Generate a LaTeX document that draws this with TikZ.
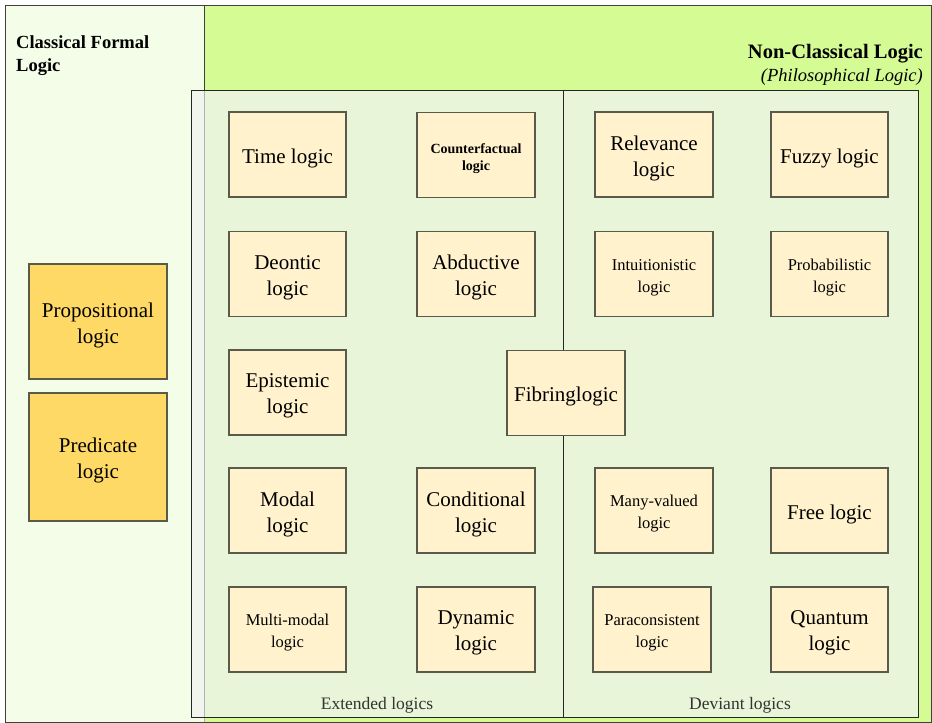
\documentclass[tikz,border=0pt]{standalone}
\usepackage{fontspec}
\setmainfont{Liberation Serif}
\definecolor{leftbg}{HTML}{F3FDE8}
\definecolor{rightbg}{HTML}{D5FB94}
\definecolor{innerbg}{HTML}{E8F5D8}
\definecolor{stripbg}{HTML}{F2F4EE}
\definecolor{boxbg}{HTML}{FFF2CC}
\definecolor{classbg}{HTML}{FFD966}
\definecolor{boxline}{HTML}{5A5A4A}
\tikzset{
  lbox/.style={draw=boxline, line width=1.3pt, fill=boxbg, minimum width=117pt, minimum height=85pt, inner sep=0pt},
  cbox/.style={lbox, fill=classbg, minimum width=138pt},
  big/.style={align=center, inner sep=0pt, font=\fontsize{21}{26}\selectfont},
  small/.style={align=center, inner sep=0pt, font=\fontsize{16.5}{22}\selectfont},
  tiny/.style={align=center, inner sep=0pt, font=\fontsize{14}{17}\selectfont\bfseries},
  heading/.style={inner sep=0pt},
}
% #1 name, #2 position, #3 box style, #4 text style, #5 text
\newcommand\logbox[5]{%
  \node[#3] (#1) at (#2) {};
  \node[#4] (#1-t) at ([yshift=-3.5pt]#1.center) {#5};
}
\begin{document}
\begin{tikzpicture}[x=1pt,y=-1pt]
\useasboundingbox (0,0) rectangle (932,723);
% columns
\fill[leftbg] (5,5) rectangle (204,722);
\fill[rightbg] (204,5) rectangle (931,722);
\draw[draw=black!75, line width=1pt] (5,5) rectangle (931,722);
\draw[draw=black!75, line width=1pt] (204,5) -- (204,90);
% inner region
\fill[innerbg] (191,90) rectangle (918,717);
\fill[stripbg] (191,90) rectangle (204,717);
\draw[black!30, line width=1pt] (204,90) -- (204,722);
\draw[black!85, line width=1pt] (191,90) rectangle (918,717);
\coordinate (dtop) at (563,90);
\coordinate (dbot) at (563,717);
\draw[black!85, line width=1pt] (dtop) -- (dbot);
% headings
\node[heading, anchor=base west, font=\fontsize{18.5}{23}\selectfont\bfseries] (cfl) at (16,48) {Classical Formal};
\node[heading, anchor=base west, font=\fontsize{18.5}{23}\selectfont\bfseries] (cfl2) at (16,71) {Logic};
\node[heading, anchor=base east, font=\fontsize{20.5}{24}\selectfont\bfseries] (ncl) at (923,58) {Non-Classical Logic};
\node[heading, anchor=base east, font=\fontsize{18.5}{22}\selectfont\itshape] (phl) at (923,81) {(Philosophical Logic)};
\node[anchor=base, font=\fontsize{17.5}{20}\selectfont, text=black!80] (ext) at (377,709) {Extended logics};
\node[anchor=base, font=\fontsize{17.5}{20}\selectfont, text=black!80] (dev) at (740,709) {Deviant logics};
% classical
\logbox{prop}{98,321.5}{cbox, minimum height=115pt}{big}{Propositional\\logic}
\logbox{pred}{98,457}{cbox, minimum height=128pt}{big}{Predicate\\logic}
% extended
\logbox{time}{287.5,154.5}{lbox}{big}{Time logic}
\logbox{cf}{476,155}{lbox, minimum width=118pt}{tiny}{Counterfactual\\logic}
\logbox{deon}{287.5,274}{lbox}{big}{Deontic\\logic}
\logbox{abd}{476,274}{lbox, minimum width=118pt}{big}{Abductive\\logic}
\logbox{epi}{287.5,392.5}{lbox}{big}{Epistemic\\logic}
\logbox{modal}{287.5,510.5}{lbox}{big}{Modal\\logic}
\logbox{cond}{476,510.5}{lbox, minimum width=118pt}{big}{Conditional\\logic}
\logbox{mm}{287.5,629.5}{lbox}{small}{Multi-modal\\logic}
\logbox{dyn}{476,629.5}{lbox, minimum width=118pt}{big}{Dynamic\\logic}
\logbox{fib}{566,393}{lbox, minimum width=118pt}{big}{Fibringlogic}
% deviant
\logbox{rel}{654,154.5}{lbox, minimum width=118pt}{big}{Relevance\\logic}
\logbox{fuzzy}{829.5,154.5}{lbox}{big}{Fuzzy logic}
\logbox{intu}{654,274}{lbox, minimum width=118pt}{small}{Intuitionistic\\logic}
\logbox{prob}{829.5,274}{lbox}{small}{Probabilistic\\logic}
\logbox{many}{654,510.5}{lbox, minimum width=118pt}{small}{Many-valued\\logic}
\logbox{free}{829.5,510.5}{lbox}{big}{Free logic}
\logbox{para}{652,629.5}{lbox, minimum width=118pt}{small}{Paraconsistent\\logic}
\logbox{quant}{829.5,629.5}{lbox}{big}{Quantum\\logic}
\end{tikzpicture}
\end{document}
